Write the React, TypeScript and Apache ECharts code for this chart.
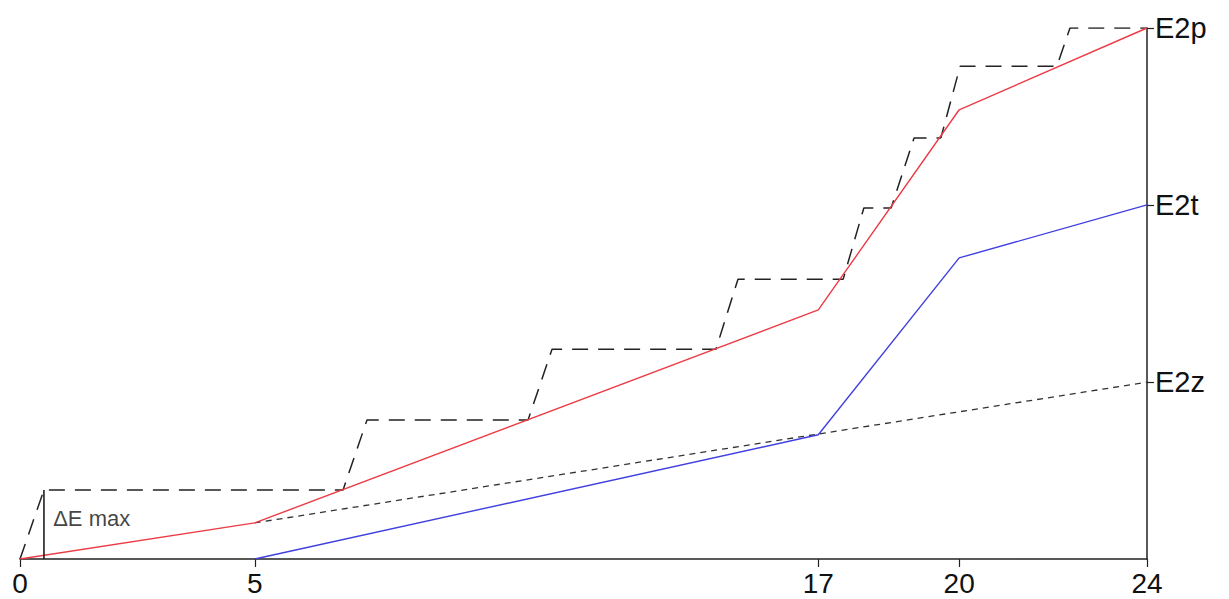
import React, { useEffect, useRef } from "react";
import * as echarts from "echarts";

// x ticks and labels
const xTicks = [0, 5, 17, 20, 24];
// right axis levels and names
const yTickValues = [100, 66.7, 33.3];
const yTickLabels = ["E2p", "E2t", "E2z"];

// E2p cumulative (red)
const redLine: [number, number][] = [
  [0, 0], [5, 6.8], [17, 46.9], [20, 84.6], [24, 100],
];
// E2t (blue)
const blueLine: [number, number][] = [
  [5, 0], [17, 23.4], [20, 56.7], [24, 66.7],
];
// E2z (short dashed)
const zLine: [number, number][] = [
  [5, 6.8], [24, 33.3],
];
// stepped dashed profile
const stepLine: [number, number][] = [
  [0, 0], [0.51, 13.0], [6.88, 13.0], [7.39, 26.2], [10.82, 26.2], [11.33, 39.5],
  [14.82, 39.5], [15.29, 52.7], [17.53, 52.7], [17.97, 66.1], [18.55, 66.1],
  [19.04, 79.3], [19.61, 79.3], [20.02, 92.8], [22.08, 92.8], [22.36, 100], [24, 100],
];
// ΔE max marker
const deltaMarker: [number, number][] = [
  [0.51, 0], [0.51, 13.0],
];
const deltaLabelPos: [number, number][] = [[0.6, 7.6]];
const deltaLabel = "ΔE max";

export default function App() {
  const ref = useRef<HTMLDivElement>(null);
  useEffect(() => {
    if (!ref.current) return;
    const chart = echarts.init(ref.current, null, { renderer: "svg" });
    const font = "Liberation Sans, Arial, sans-serif";
    chart.setOption({
      animation: false,
      backgroundColor: "#ffffff",
      grid: { left: 20, right: 82, top: 28, bottom: 40, containLabel: false },
      xAxis: {
        type: "value",
        min: 0,
        max: 24,
        axisLine: { show: true, onZero: false, lineStyle: { color: "#222", width: 1.5 } },
        axisTick: { show: true, length: 8, customValues: xTicks, lineStyle: { color: "#222", width: 1.2 } },
        axisLabel: {
          customValues: xTicks,
          color: "#111",
          fontSize: 28,
          fontFamily: font,
          margin: 10,
        },
        splitLine: { show: false },
      },
      yAxis: {
        type: "value",
        position: "right",
        min: 0,
        max: 100,
        axisLine: { show: true, onZero: false, lineStyle: { color: "#222", width: 1.5 } },
        axisTick: { show: true, length: 7, customValues: yTickValues, lineStyle: { color: "#222", width: 1.2 } },
        axisLabel: {
          customValues: yTickValues,
          color: "#111",
          fontSize: 29,
          fontFamily: font,
          margin: 8,
          formatter: (v: number) => {
            const i = yTickValues.findIndex((t) => Math.abs(t - v) < 0.01);
            return i >= 0 ? yTickLabels[i] : "";
          },
        },
        splitLine: { show: false },
      },
      series: [
        {
          type: "line",
          data: stepLine,
          symbol: "none",
          lineStyle: { color: "#222", width: 1.5, type: [16, 10] },
          z: 3,
        },
        {
          type: "line",
          data: zLine,
          symbol: "none",
          lineStyle: { color: "#333", width: 1.3, type: [6, 5] },
          z: 2,
        },
        {
          type: "line",
          data: redLine,
          symbol: "none",
          lineStyle: { color: "#ec3b45", width: 1.4 },
          z: 4,
        },
        {
          type: "line",
          data: blueLine,
          symbol: "none",
          lineStyle: { color: "#4040e0", width: 1.4 },
          z: 4,
        },
        {
          type: "line",
          data: deltaMarker,
          symbol: "none",
          lineStyle: { color: "#111", width: 1.5 },
          z: 4,
        },
        {
          type: "scatter",
          data: deltaLabelPos,
          symbolSize: 0,
          label: {
            show: true,
            position: "right",
            formatter: () => deltaLabel,
            color: "#111",
            fontSize: 22,
            fontFamily: font,
          },
          z: 5,
        },
      ],
    });
    return () => chart.dispose();
  }, []);
  return (
    <div
      ref={ref}
      style={{ position: "fixed", left: 0, top: 0, width: 1229, height: 599 }}
    />
  );
}
